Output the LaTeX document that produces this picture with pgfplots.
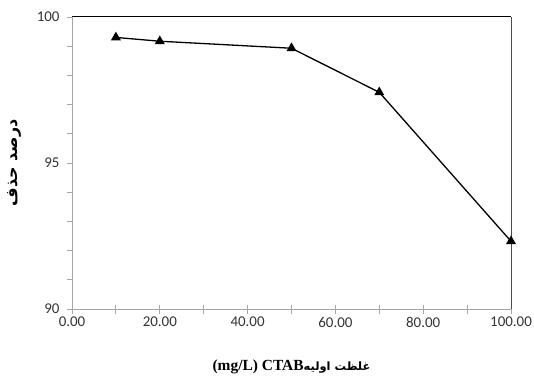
\documentclass[border=0pt]{standalone}
\usepackage{fontspec}
\usepackage{pgfplots}
\pgfplotsset{compat=1.18}
\setmainfont{Carlito}
\newfontfamily\arabicfont[Script=Arabic]{DejaVu Sans}
\newfontfamily\latinserif{Liberation Serif}
\TeXXeTstate=1
\begin{document}
\begin{tikzpicture}
\useasboundingbox (-72bp,-69bp) rectangle (462bp,309bp);
\begin{axis}[
  scale only axis,
  width=439bp, height=292bp,
  at={(0,0)}, anchor=south west,
  xmin=0, xmax=100, ymin=90, ymax=100,
  axis lines*=left,
  axis line style={draw=gray!70, line width=0.8bp},
  every tick/.style={draw=gray!70, line width=0.8bp},
  xtick={0,20,...,100},
  minor xtick={10,30,...,90},
  ytick={90,95,100},
  minor ytick={91,92,93,94,96,97,98,99},
  x tick label style={/pgf/number format/.cd, fixed, fixed zerofill, precision=2, assume math mode=true},
  y tick label style={/pgf/number format/.cd, assume math mode=true},
  xtick align=center,
  ytick align=outside,
  major tick length=9bp,
  minor tick length=9bp,
  y tick style={/pgfplots/major tick length=5bp, /pgfplots/minor tick length=5bp},
  ticklabel style={font=\fontsize{15}{18}\selectfont, text=black!80},
  xlabel={\arabicfont\bfseries\fontsize{11.5}{14}\selectfont\beginR غلظت اولیه\beginL{\latinserif\bfseries\fontsize{15.5}{18}\selectfont (mg/L) CTAB}\endL\endR},
  ylabel={\arabicfont\bfseries\fontsize{16}{19}\selectfont\beginR درصد حذف\endR},
  x label style={at={(axis description cs:0.5,-0.199)}, anchor=center},
  y label style={at={(axis description cs:-0.13,0.5)}, anchor=center},
  clip=false,
]
\draw[black, line width=1bp] (rel axis cs:0,1) -- (rel axis cs:1,1);
\draw[black!70, line width=1bp] (rel axis cs:1,1) -- (rel axis cs:1,0);
\addplot[black, line width=1.3bp, mark=triangle*, mark size=4.5bp, mark options={fill=black}]
coordinates {(10,99.3) (20,99.17) (50,98.93) (70,97.42) (100,92.32)};
\end{axis}
\end{tikzpicture}
\end{document}
